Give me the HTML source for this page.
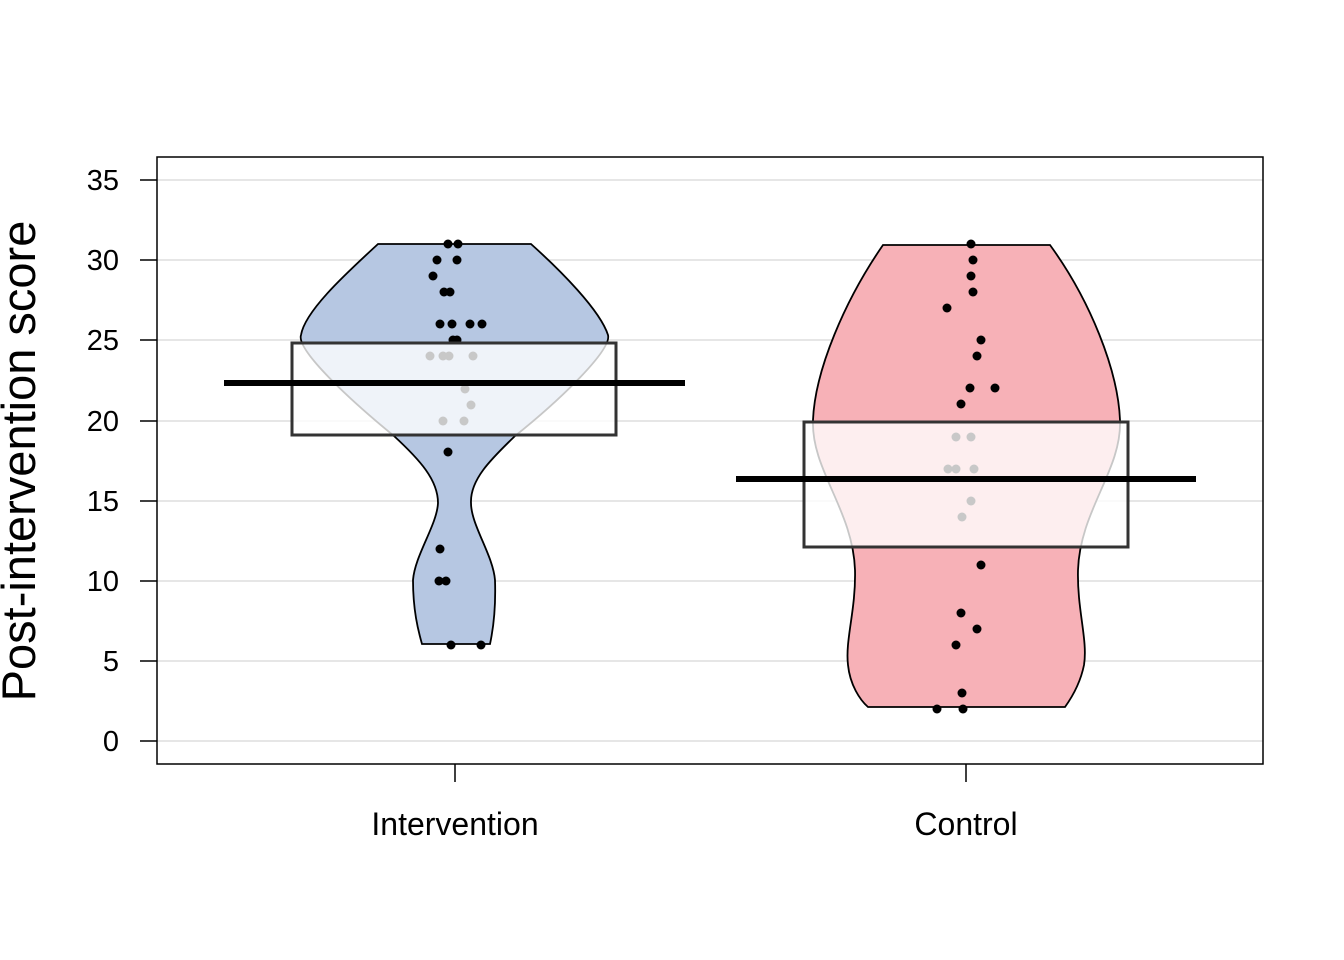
<!DOCTYPE html>
<html><head><meta charset="utf-8"><style>body{margin:0;background:#fff}svg{display:block}</style></head><body>
<svg width="1344" height="960" viewBox="0 0 1344 960" font-family="Liberation Sans, Arial, sans-serif">
<rect width="1344" height="960" fill="#fff"/>
<g stroke="#d6d6d6" stroke-width="1.2">
<line x1="157" x2="1263" y1="741" y2="741"/><line x1="157" x2="1263" y1="661" y2="661"/>
<line x1="157" x2="1263" y1="581" y2="581"/><line x1="157" x2="1263" y1="501" y2="501"/>
<line x1="157" x2="1263" y1="421" y2="421"/><line x1="157" x2="1263" y1="340" y2="340"/>
<line x1="157" x2="1263" y1="260" y2="260"/><line x1="157" x2="1263" y1="180" y2="180"/>
</g>
<path d="M378,244 L531,244 C560,270 600,310 608,335 C612,350 560,400 515,436 C490,460 470,480 471,503 C471,525 493,555 495,580 C496,610 493,630 490,644 L422,644 C418,630 413,610 413,580 C415,555 437,525 438,503 C438,480 420,460 394,436 C350,400 296,350 301,335 C305,310 350,270 378,244 Z" fill="#b6c7e2" stroke="#000" stroke-width="1.8"/>
<path d="M883,245 L1050,245 C1090,300 1118,370 1120,420 C1122,470 1080,510 1078,570 C1077,610 1088,640 1084,665 C1080,685 1070,700 1065,707 L868,707 C860,700 850,685 848,665 C845,640 856,610 855,570 C853,510 811,470 813,420 C815,370 845,300 883,245 Z" fill="#f7b1b7" stroke="#000" stroke-width="1.8"/>
<g fill="#000">
<circle cx="448" cy="244" r="4.5"/><circle cx="458" cy="244" r="4.5"/><circle cx="437" cy="260" r="4.5"/><circle cx="457" cy="260" r="4.5"/><circle cx="433" cy="276" r="4.5"/><circle cx="444" cy="292" r="4.5"/><circle cx="450" cy="292" r="4.5"/><circle cx="440" cy="324" r="4.5"/><circle cx="452" cy="324" r="4.5"/><circle cx="470" cy="324" r="4.5"/><circle cx="482" cy="324" r="4.5"/><circle cx="453" cy="340" r="4.5"/><circle cx="457" cy="340" r="4.5"/>
<circle cx="971" cy="244" r="4.5"/><circle cx="973" cy="260" r="4.5"/><circle cx="971" cy="276" r="4.5"/><circle cx="973" cy="292" r="4.5"/><circle cx="947" cy="308" r="4.5"/><circle cx="981" cy="340" r="4.5"/><circle cx="977" cy="356" r="4.5"/><circle cx="970" cy="388" r="4.5"/><circle cx="995" cy="388" r="4.5"/><circle cx="961" cy="404" r="4.5"/>
</g>
<rect x="292" y="343" width="324" height="92" fill="rgba(255,255,255,0.78)" stroke="#333" stroke-width="3"/>
<rect x="804" y="422" width="324" height="125" fill="rgba(255,255,255,0.78)" stroke="#333" stroke-width="3"/>
<g fill="#c8c8c8">
<circle cx="430" cy="356" r="4.5"/><circle cx="443" cy="356" r="4.5"/><circle cx="449" cy="356" r="4.5"/><circle cx="473" cy="356" r="4.5"/><circle cx="465" cy="389" r="4.5"/><circle cx="471" cy="405" r="4.5"/><circle cx="443" cy="421" r="4.5"/><circle cx="464" cy="421" r="4.5"/>
<circle cx="956" cy="437" r="4.5"/><circle cx="971" cy="437" r="4.5"/><circle cx="948" cy="469" r="4.5"/><circle cx="956" cy="469" r="4.5"/><circle cx="974" cy="469" r="4.5"/><circle cx="971" cy="501" r="4.5"/><circle cx="962" cy="517" r="4.5"/>
</g>
<g fill="#000">
<circle cx="448" cy="452" r="4.5"/><circle cx="440" cy="549" r="4.5"/><circle cx="439" cy="581" r="4.5"/><circle cx="446" cy="581" r="4.5"/><circle cx="451" cy="645" r="4.5"/><circle cx="481" cy="645" r="4.5"/>
<circle cx="981" cy="565" r="4.5"/><circle cx="961" cy="613" r="4.5"/><circle cx="977" cy="629" r="4.5"/><circle cx="956" cy="645" r="4.5"/><circle cx="962" cy="693" r="4.5"/><circle cx="937" cy="709" r="4.5"/><circle cx="963" cy="709" r="4.5"/>
</g>
<line x1="224" x2="685" y1="383" y2="383" stroke="#000" stroke-width="6"/>
<line x1="736" x2="1196" y1="479" y2="479" stroke="#000" stroke-width="6"/>
<rect x="157" y="157" width="1106" height="607" fill="none" stroke="#000" stroke-width="1.5"/>
<g stroke="#000" stroke-width="1.5">
<line x1="140" x2="157" y1="741" y2="741"/><line x1="140" x2="157" y1="661" y2="661"/><line x1="140" x2="157" y1="581" y2="581"/><line x1="140" x2="157" y1="501" y2="501"/><line x1="140" x2="157" y1="421" y2="421"/><line x1="140" x2="157" y1="340" y2="340"/><line x1="140" x2="157" y1="260" y2="260"/><line x1="140" x2="157" y1="180" y2="180"/>
<line x1="455" x2="455" y1="764" y2="782"/><line x1="966" x2="966" y1="764" y2="782"/>
</g>
<g font-size="29" text-anchor="end" fill="#000">
<text x="119" y="751">0</text><text x="119" y="671">5</text><text x="119" y="591">10</text><text x="119" y="511">15</text><text x="119" y="431">20</text><text x="119" y="350">25</text><text x="119" y="270">30</text><text x="119" y="190">35</text>
</g>
<g font-size="32" text-anchor="middle">
<text x="455" y="835">Intervention</text><text x="966" y="835">Control</text>
</g>
<text transform="translate(35,461) rotate(-90)" font-size="47" text-anchor="middle">Post-intervention score</text>
</svg>
</body></html>
